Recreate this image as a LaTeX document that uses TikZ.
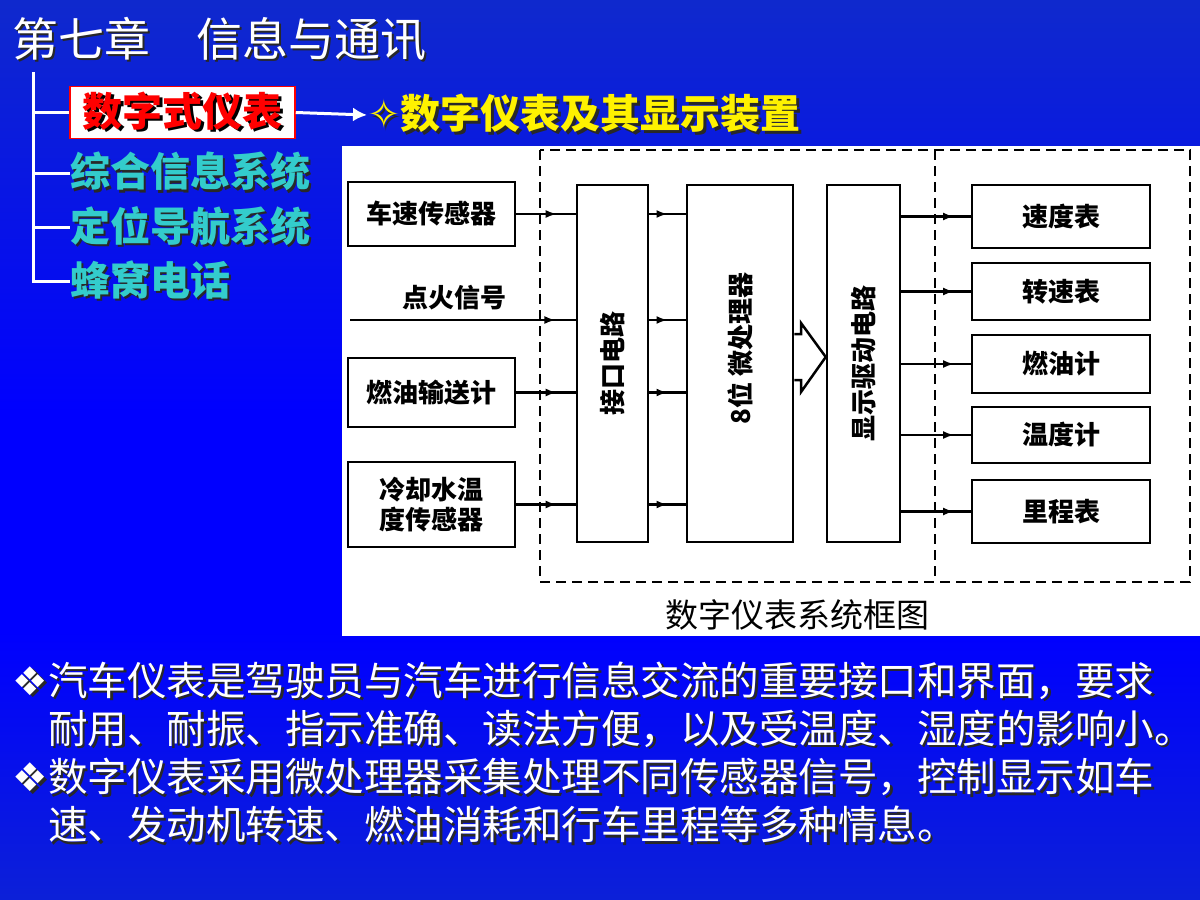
\documentclass[tikz,border=0pt]{standalone}
\usepackage{fontspec}
\usepackage{graphicx}
\setmainfont{Noto Sans CJK SC}
\newfontfamily\symfont{DejaVu Sans}
\usetikzlibrary{arrows.meta,decorations.markings}

\definecolor{bgedge}{RGB}{32,86,150}
\definecolor{menucyan}{RGB}{51,204,204}
\definecolor{shadowgray}{RGB}{40,40,40}
\pgfdeclareverticalshading{slidebg}{100bp}{color(0bp)=(bgedge); color(40bp)=(blue); color(52bp)=(blue); color(100bp)=(bgedge)}

% text with a dark copy behind it
\newcommand{\shadowtxt}[2]{\makebox[0pt][l]{\hspace{2.5pt}\raisebox{-2.5pt}{\color{#1}#2}}#2}

\tikzset{
  treeline/.style={white, line width=3pt},
  menu/.style={anchor=west, inner sep=0pt, text=menucyan, font=\bfseries\fontsize{40}{44}\selectfont},
  blockbox/.style={draw, line width=2.5pt, fill=white, inner sep=2pt, align=center, font=\bfseries\fontsize{26}{30}\selectfont},
  tallbox/.style={blockbox, minimum height=357pt},
  linkarrow/.style={line width=2.5pt, postaction={decorate}, decoration={markings, mark=at position #1 with {\arrow{Latex[length=11pt,width=8pt]}}}},
  linkarrow/.default=0.7,
  groupframe/.style={line width=2.5pt, dash pattern=on 10pt off 6pt},
  bodytext/.style={anchor=west, inner sep=0pt, align=left, text=white, font=\fontsize{39.5}{48}\selectfont},
}

\begin{document}
\begin{tikzpicture}[x=1pt,y=-1pt]
  \useasboundingbox (0,0) rectangle (1200,900);
  \shade[shading=slidebg] (0,0) rectangle (1200,900);

  % title and menu
  \node[anchor=west, inner sep=0pt, text=white, font=\fontsize{46}{50}\selectfont] (title) at (12,40) {\shadowtxt{shadowgray}{第七章　信息与通讯}};
  \node[draw=red, fill=white, line width=1.5pt, inner sep=0pt, minimum width=225pt, minimum height=52pt, text=red, font=\bfseries\fontsize{40}{44}\selectfont] (digital) at (182.5,112.5) {\shadowtxt{black}{数字式仪表}};
  \node[anchor=west, inner sep=0pt, text=yellow, font=\bfseries\fontsize{40}{44}\selectfont] (feature) at (367,115) {\shadowtxt{shadowgray}{{\symfont ✧}数字仪表及其显示装置}};
  \node[menu] (integrated) at (70,173) {\shadowtxt{shadowgray}{综合信息系统}};
  \node[menu] (navigation) at (70,227) {\shadowtxt{shadowgray}{定位导航系统}};
  \node[menu] (cellular) at (70,281) {\shadowtxt{shadowgray}{蜂窝电话}};

  \coordinate (root) at (33,72);
  \foreach \item in {digital,integrated,navigation,cellular}
    \draw[treeline] (root) |- (\item.west);
  \draw[treeline,-{Latex[length=14pt,width=14pt]}] (digital.east) -- (feature.west);

  % block diagram
  \fill[white] (342,146) rectangle (1200,636);
  \draw[groupframe] (540,150) rectangle (1190,582);
  \draw[groupframe] (935,150) -- (935,582);

  \node[blockbox, minimum width=167pt, minimum height=64pt] (speed) at (431.5,214) {车速传感器};
  \coordinate (ignition) at (350,320);
  \node[font=\bfseries\fontsize{26}{30}\selectfont] (ignlabel) at (454,298) {点火信号};
  \node[blockbox, minimum width=167pt, minimum height=69pt] (fuelflow) at (431.5,392.5) {燃油输送计};
  \node[blockbox, minimum width=167pt, minimum height=85pt] (coolant) at (431.5,504.5) {冷却水温\\度传感器};

  \node[tallbox, minimum width=71pt] (iface) at (612.5,363.5) {\rotatebox{90}{接口电路}};
  \node[tallbox, minimum width=106pt] (micro) at (740,363.5) {\rotatebox{90}{\hspace{30pt}8位\ 微处理器}};
  \node[tallbox, minimum width=73pt] (driver) at (863.5,363.5) {\rotatebox{90}{显示驱动电路}};

  \node[blockbox, minimum width=178pt, minimum height=63pt] (speedo) at (1061,216.5) {速度表};
  \node[blockbox, minimum width=178pt, minimum height=57pt] (tacho) at (1061,291.5) {转速表};
  \node[blockbox, minimum width=178pt, minimum height=58pt] (fuelgauge) at (1061,364) {燃油计};
  \node[blockbox, minimum width=178pt, minimum height=56pt] (tempgauge) at (1061,435) {温度计};
  \node[blockbox, minimum width=178pt, minimum height=63pt] (odo) at (1061,511.5) {里程表};

  \draw[linkarrow=0.68] (speed.east) -- (speed.east -| iface.west);
  \draw[linkarrow=0.91] (ignition) -- (ignition -| iface.west);
  \draw[linkarrow=0.68] (fuelflow.east) -- (fuelflow.east -| iface.west);
  \draw[linkarrow=0.68] (coolant.east) -- (coolant.east -| iface.west);
  \foreach \src in {speed.east,ignition,fuelflow.east,coolant.east}
    \draw[linkarrow=0.5] (iface.east |- \src) -- (micro.west |- \src);
  \foreach \dst in {speedo,tacho,fuelgauge,tempgauge,odo}
    \draw[linkarrow=0.76] (driver.east |- \dst.west) -- (\dst.west);

  \draw[line width=2.5pt] (micro.east |- 0,334) -- (801,334) -- (801,323) -- (driver.west |- 0,357)
    -- (801,392) -- (801,380) -- (micro.east |- 0,380);

  \node[font=\fontsize{33}{36}\selectfont] (caption) at (797,615) {数字仪表系统框图};

  % notes
  \node[bodytext] (note1) at (48,706) {\shadowtxt{shadowgray}{\llap{{\symfont ❖}}汽车仪表是驾驶员与汽车进行信息交流的重要接口和界面，要求}\\\shadowtxt{shadowgray}{耐用、耐振、指示准确、读法方便，以及受温度、湿度的影响小。}};
  \node[bodytext] (note2) at (48,802) {\shadowtxt{shadowgray}{\llap{{\symfont ❖}}数字仪表采用微处理器采集处理不同传感器信号，控制显示如车}\\\shadowtxt{shadowgray}{速、发动机转速、燃油消耗和行车里程等多种情息。}};
\end{tikzpicture}
\end{document}
